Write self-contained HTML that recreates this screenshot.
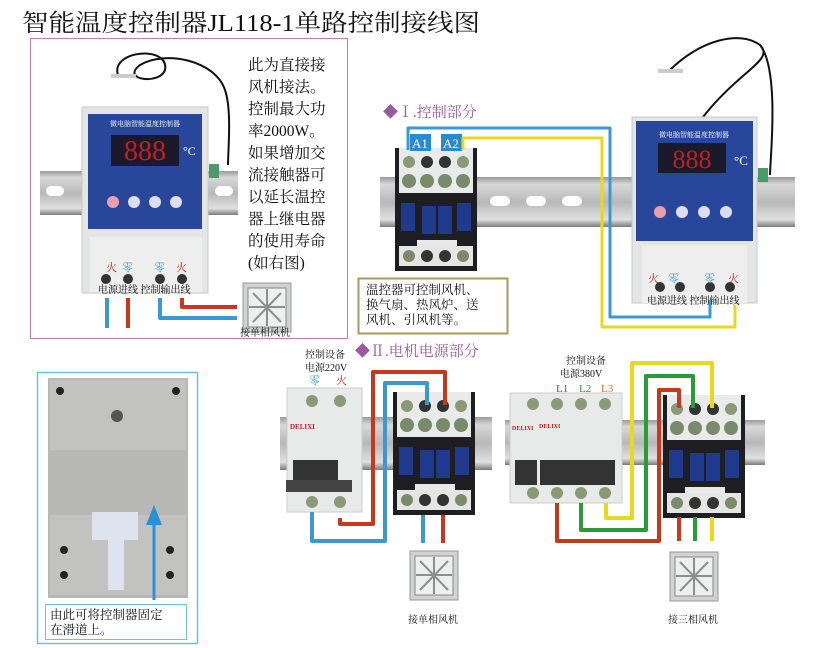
<!DOCTYPE html>
<html><head><meta charset="utf-8"><style>
body{margin:0;background:#fff}
svg{display:block}
text{font-family:"Liberation Serif","Noto Serif CJK SC","Noto Sans CJK SC",serif}
</style></head><body>
<svg width="822" height="648" viewBox="0 0 822 648" xmlns="http://www.w3.org/2000/svg">
<defs>
<linearGradient id="rail" x1="0" y1="0" x2="0" y2="1">
<stop offset="0" stop-color="#9a9a9a"/><stop offset="0.15" stop-color="#d8d8d8"/><stop offset="0.5" stop-color="#b8b8b8"/><stop offset="0.85" stop-color="#e0e0e0"/><stop offset="1" stop-color="#7a7a7a"/></linearGradient>
<g id="contactor">
<rect x="0" y="0" width="82" height="123" fill="#1d1d22"/>
<rect x="4" y="0" width="74" height="45" fill="#e9ebea"/>
<circle cx="14" cy="14" r="6" fill="#8a9a78"/><circle cx="32" cy="14" r="6" fill="#333"/><circle cx="50" cy="14" r="6" fill="#333"/><circle cx="68" cy="14" r="6" fill="#8a9a78"/>
<circle cx="14" cy="33" r="7" fill="#7c8a6c"/><circle cx="32" cy="33" r="7" fill="#7c8a6c"/><circle cx="50" cy="33" r="7" fill="#7c8a6c"/><circle cx="68" cy="33" r="7" fill="#7c8a6c"/>
<rect x="6" y="55" width="14" height="28" fill="#1f3a8c"/><rect x="27" y="58" width="14" height="28" fill="#1f3a8c"/><rect x="43" y="58" width="14" height="28" fill="#1f3a8c"/><rect x="62" y="55" width="14" height="28" fill="#1f3a8c"/>
<rect x="22" y="92" width="40" height="14" fill="#e8e8e8"/>
<rect x="4" y="98" width="74" height="20" fill="#e5e5e3"/>
<circle cx="14" cy="108" r="6" fill="#7c8a6c"/><circle cx="32" cy="108" r="6" fill="#333"/><circle cx="50" cy="108" r="6" fill="#333"/><circle cx="68" cy="108" r="6" fill="#7c8a6c"/>
</g>
<g id="fan">
<rect x="0" y="0" width="48" height="49" fill="#cfd3d2" stroke="#9a9a9a"/>
<rect x="5" y="5" width="38" height="39" fill="#eef0ef" stroke="#888"/>
<path d="M10 10 L38 39 M38 10 L10 39 M24 6 V43 M6 24 H42" stroke="#8a8f90" stroke-width="2"/>
</g>
<g id="ctrl">
<rect x="0" y="0" width="125" height="186" fill="#e4e6e6" stroke="#c8c8c8"/>
<rect x="4" y="4" width="117" height="120" fill="#28479a"/>
<rect x="26" y="26" width="68" height="30" fill="#1a1a2a"/>
<text x="60" y="51" font-size="26" fill="#c02020" text-anchor="middle" font-family="Liberation Sans,sans-serif">888</text>
<text x="102" y="48" font-size="13" fill="#fff">°C</text>
<circle cx="28" cy="95" r="6" fill="#e6a0b0"/><circle cx="50" cy="95" r="6" fill="#dde"/><circle cx="72" cy="95" r="6" fill="#dde"/><circle cx="94" cy="95" r="6" fill="#dde"/>
<rect x="10" y="128" width="105" height="58" fill="#eeeeee"/>
<circle cx="28" cy="170" r="5" fill="#333"/><circle cx="48" cy="170" r="5" fill="#333"/><circle cx="78" cy="170" r="5" fill="#333"/><circle cx="98" cy="170" r="5" fill="#333"/>
</g>
</defs>

<text x="22" y="31" font-size="24" textLength="458" lengthAdjust="spacingAndGlyphs" fill="#111">智能温度控制器JL118-1单路控制接线图</text>

<!-- pink box -->
<rect x="30.5" y="38.5" width="317" height="300" fill="#fff" stroke="#c77aa9"/>
<rect x="40" y="171" width="198" height="44" fill="url(#rail)"/>
<rect x="46" y="186" width="18" height="10" rx="5" fill="#fff"/><rect x="215" y="186" width="18" height="10" rx="5" fill="#fff"/>
<path d="M118 75 C110 50,170 45,165 70 C160 85,120 80,140 65 C165 50,215 60,225 90 C232 110,228 150,228 165" stroke="#111" stroke-width="2" fill="none"/>
<rect x="111" y="74" width="25" height="4" fill="#ccc"/>
<rect x="82" y="107" width="126" height="186" fill="#e4e6e6" stroke="#c8c8c8"/>
<rect x="88" y="114" width="114" height="115" fill="#28479a"/>
<text x="145" y="126" font-size="7" fill="#fff" text-anchor="middle">微电脑智能温度控制器</text>
<rect x="111" y="135" width="68" height="31" fill="#1a1a2a"/>
<text x="145" y="160" font-size="28" fill="#c02020" text-anchor="middle" font-family="Liberation Sans,sans-serif">888</text>
<text x="183" y="155" font-size="12" fill="#fff">°C</text>
<circle cx="113" cy="202" r="6" fill="#e6a0b0"/><circle cx="134" cy="202" r="6" fill="#dde"/><circle cx="155" cy="202" r="6" fill="#dde"/><circle cx="176" cy="202" r="6" fill="#dde"/>
<rect x="90" y="237" width="112" height="55" fill="#eeeeee"/>
<text x="106" y="271" font-size="11" fill="#d03020">火</text><text x="122" y="271" font-size="11" fill="#40a0d0">零</text><text x="154" y="271" font-size="11" fill="#40a0d0">零</text><text x="176" y="271" font-size="11" fill="#d03020">火</text>
<circle cx="106" cy="279" r="5" fill="#333"/><circle cx="128" cy="279" r="5" fill="#333"/><circle cx="160" cy="279" r="5" fill="#333"/><circle cx="182" cy="279" r="5" fill="#333"/>
<text x="98" y="293" font-size="10" fill="#111">电源进线 控制输出线</text>
<rect x="209" y="164" width="10" height="14" fill="#4a9a6a"/>
<g fill="none" stroke-width="4" stroke-linejoin="round">
<path d="M107 298 V328" stroke="#3a9ad0"/>
<path d="M128 298 V328" stroke="#c8381e"/>
<path d="M160 298 V318 H237" stroke="#3a9ad0"/>
<path d="M182 298 V307 H237" stroke="#c8381e"/>
</g>
<use href="#fan" x="243" y="283"/>
<text x="240" y="336" font-size="10" fill="#111">接单相风机</text>
<g font-size="15.5" fill="#111">
<text x="248" y="70">此为直接接</text>
<text x="248" y="92">风机接法。</text>
<text x="248" y="114">控制最大功</text>
<text x="248" y="136">率2000W。</text>
<text x="248" y="158">如果增加交</text>
<text x="248" y="180">流接触器可</text>
<text x="248" y="202">以延长温控</text>
<text x="248" y="224">器上继电器</text>
<text x="248" y="246">的使用寿命</text>
<text x="248" y="268">(如右图)</text>
</g>

<!-- Section I -->
<text x="383" y="117" font-size="15" fill="#9a5aa0">◆Ⅰ.控制部分</text>
<rect x="380" y="177" width="415" height="50" fill="url(#rail)"/>
<rect x="490" y="196" width="20" height="10" rx="5" fill="#fff"/><rect x="526" y="196" width="20" height="10" rx="5" fill="#fff"/><rect x="562" y="196" width="20" height="10" rx="5" fill="#fff"/>
<use href="#contactor" x="395" y="148"/>
<rect x="410" y="134" width="21" height="17" fill="#2a8ad0"/><text x="412" y="148" font-size="13" fill="#fff">A1</text>
<rect x="441" y="134" width="21" height="17" fill="#2a8ad0"/><text x="443" y="148" font-size="13" fill="#fff">A2</text>
<path d="M703 117 C740 70,775 60,760 45 C740 30,700 40,670 70 M760 45 C780 70,770 160,770 175" stroke="#111" stroke-width="2" fill="none"/>
<rect x="658" y="69" width="25" height="4" fill="#ccc"/>
<use href="#ctrl" x="632" y="117"/>
<rect x="758" y="168" width="10" height="14" fill="#4a9a6a"/>
<text x="694" y="137" font-size="7" fill="#fff" text-anchor="middle">微电脑智能温度控制器</text>
<text x="648" y="282" font-size="11" fill="#d03020">火</text><text x="668" y="282" font-size="11" fill="#40a0d0">零</text><text x="704" y="282" font-size="11" fill="#40a0d0">零</text><text x="728" y="282" font-size="11" fill="#d03020">火</text>
<text x="647" y="304" font-size="10" fill="#111">电源进线 控制输出线</text>
<g fill="none" stroke-width="3" stroke-linejoin="round">
<path d="M408 150 V128 H610 V317 H710 V300" stroke="#3a9ad0"/>
<path d="M463 150 V138 H602 V327 H735 V305" stroke="#e8d820"/>
</g>
<rect x="358.5" y="278.5" width="149" height="55" fill="#fff" stroke="#a89a60" stroke-width="2"/>
<g font-size="12.5" fill="#111"><text x="366" y="294">温控器可控制风机、</text><text x="366" y="309">换气扇、热风炉、送</text><text x="366" y="324">风机、引风机等。</text></g>

<!-- Section II -->
<text x="355" y="356" font-size="15" fill="#9a5aa0">◆Ⅱ.电机电源部分</text>
<text x="305" y="358" font-size="10" fill="#111">控制设备</text>
<text x="305" y="371" font-size="10" fill="#111">电源220V</text>
<text x="309" y="384" font-size="11" fill="#40a0d0">零</text><text x="336" y="384" font-size="11" fill="#d03020">火</text>
<rect x="280" y="417" width="212" height="53" fill="url(#rail)"/>
<rect x="287" y="388" width="75" height="124" fill="#e8eaea" stroke="#ccc"/>
<circle cx="312" cy="401" r="6" fill="#8a9a78"/><circle cx="340" cy="401" r="6" fill="#8a9a78"/>
<text x="290" y="429" font-size="7" fill="#c02020" font-weight="bold">DELIXI</text>
<rect x="293" y="460" width="45" height="25" fill="#333"/><rect x="286" y="480" width="66" height="12" fill="#444"/>
<circle cx="312" cy="502" r="6" fill="#8a9a78"/><circle cx="340" cy="502" r="6" fill="#8a9a78"/>
<use href="#contactor" x="393" y="392"/>
<g fill="none" stroke-width="4" stroke-linejoin="round">
<path d="M312 512 V541 H385 V383 H427 V405" stroke="#3a9ad0"/>
<path d="M340 518 V524 H373 V372 H445 V405" stroke="#c8381e"/>
<path d="M423 515 V543" stroke="#3a9ad0"/>
<path d="M443 515 V543" stroke="#c8381e"/>
</g>
<use href="#fan" x="410" y="551"/>
<text x="408" y="623" font-size="10" fill="#111">接单相风机</text>

<text x="566" y="364" font-size="10" fill="#111">控制设备</text>
<text x="560" y="377" font-size="10" fill="#111">电源380V</text>
<text x="556" y="392" font-size="11" fill="#d03020">L1</text><text x="579" y="392" font-size="11" fill="#30a040">L2</text><text x="601" y="392" font-size="11" fill="#e07020">L3</text>
<rect x="505" y="420" width="260" height="45" fill="url(#rail)"/>
<rect x="510" y="393" width="112" height="110" fill="#e8eaea" stroke="#ccc"/>
<circle cx="533" cy="404" r="6" fill="#8a9a78"/><circle cx="557" cy="404" r="6" fill="#8a9a78"/><circle cx="581" cy="404" r="6" fill="#8a9a78"/><circle cx="605" cy="404" r="6" fill="#8a9a78"/>
<text x="512" y="430" font-size="6" fill="#c02020" font-weight="bold">DELIXI</text><text x="539" y="428" font-size="6" fill="#c02020" font-weight="bold">DELIXI</text>
<rect x="515" y="460" width="22" height="25" fill="#333"/><rect x="540" y="460" width="75" height="25" fill="#333"/>
<circle cx="533" cy="493" r="6" fill="#8a9a78"/><circle cx="557" cy="493" r="6" fill="#8a9a78"/><circle cx="581" cy="493" r="6" fill="#8a9a78"/><circle cx="605" cy="493" r="6" fill="#8a9a78"/>
<use href="#contactor" x="663" y="395"/>
<g fill="none" stroke-width="4" stroke-linejoin="round">
<path d="M557 503 V541 H659 V390 H679 V408" stroke="#c8381e"/>
<path d="M581 503 V530 H646 V376 H693 V408" stroke="#2a9a3a"/>
<path d="M606 503 V518 H632 V363 H712 V408" stroke="#e8d820"/>
<path d="M679 517 V541" stroke="#c8381e"/>
<path d="M695 517 V541" stroke="#2a9a3a"/>
<path d="M712 517 V541" stroke="#e8d820"/>
</g>
<use href="#fan" x="670" y="552"/>
<text x="668" y="623" font-size="10" fill="#111">接三相风机</text>

<!-- bottom-left plate -->
<rect x="37.5" y="372.5" width="160" height="271" fill="#fff" stroke="#6ac0e6" stroke-width="1.5"/>
<rect x="48" y="378" width="140" height="220" fill="#b8b8b6"/>
<rect x="50" y="380" width="136" height="70" fill="#c2c2c0"/>
<rect x="50" y="515" width="136" height="80" fill="#c2c2c0"/>
<circle cx="60" cy="391" r="4" fill="#222"/><circle cx="176" cy="391" r="4" fill="#222"/>
<circle cx="64" cy="550" r="4" fill="#222"/><circle cx="170" cy="550" r="4" fill="#222"/><circle cx="64" cy="575" r="4" fill="#222"/><circle cx="170" cy="575" r="4" fill="#222"/>
<circle cx="117" cy="416" r="6" fill="#555"/>
<path d="M92 512 H138 V540 H124 V590 H108 V540 H92 Z" fill="#dde4f0"/>
<path d="M154 600 V520" stroke="#2a90d8" stroke-width="3"/>
<path d="M146 525 L154 505 L162 525 Z" fill="#2a90d8"/>
<rect x="45.5" y="604.5" width="141" height="35" fill="#fff" stroke="#6ac0e6"/>
<text x="50" y="619" font-size="12.5" fill="#111">由此可将控制器固定</text>
<text x="50" y="634" font-size="12.5" fill="#111">在滑道上。</text>
</svg>
</body></html>
